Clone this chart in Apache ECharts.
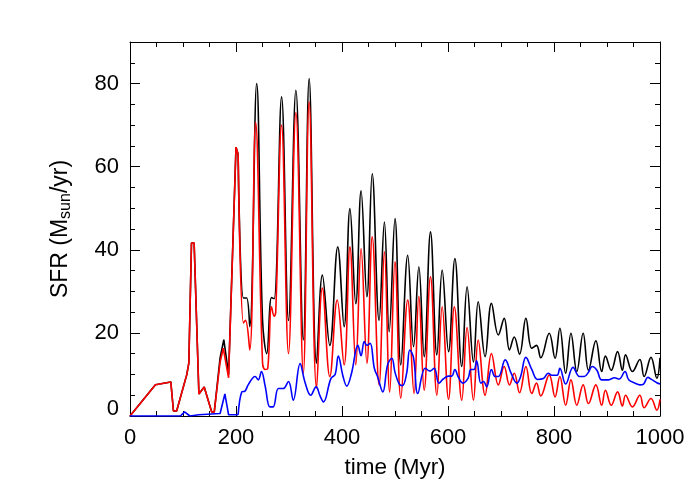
<!DOCTYPE html>
<html>
<head>
<meta charset="utf-8">
<script src="https://cdn.jsdelivr.net/npm/echarts@6/dist/echarts.min.js"></script>
<style>
html,body{margin:0;padding:0;background:#fff;}
#chart{width:700px;height:500px;}
</style>
</head>
<body>
<div id="chart"></div>
<script>
// ---- data (time in Myr, SFR in Msun/yr) ----
const blackT = [0,48,77,82,88,107,111,116,121,130,140,154,159,170,177,186,200,204,214,220,226,239,250,258,267,272,286,299,313,327,338,352,363,377,392,404,415,426,436,447,457,470,480,489,500,511,524,535,545,555,567,579,589,601,613,626,636,648,657,670,682,695,706,716,725,735,747,758,767,775,791,802,811,822,832,843,855,865,879,890,897,908,920,929,935,948,962,970,983,994,1000];
const blackV = [0,7.5,8.2,1.2,1.2,9.9,12.7,41.6,41.6,5.3,7,1,1,14,18.4,10,64.7,63,28.4,28.4,21.5,80,23.2,15,28.5,28.2,76.8,23,78.4,18.3,81.2,12.7,33.9,17,40.7,21.5,49.9,27,54.2,28.7,58.3,23,46.7,20.3,47.5,12.3,38.7,16.7,35.9,14.3,44.3,14.7,35.1,15.5,37.9,11.9,31.1,13,27.5,14.3,27.1,19.5,23.5,15.9,19,14.9,23.5,16.3,17,14,19.9,13.9,21.1,10.3,19.9,10.7,19.9,11,18.1,10.7,14.4,11,15.5,11,14.7,10.7,13.6,9.5,14.1,9.1,14];

const redT = [0,48,77,82,88,107,111,116,121,130,140,154,159,170,176,186,200,204,214,218,226,237,250,255,260,267,272,275,286,299,313,327,338,352,363,377,391,404,415,426,436,447,457,470,480,490,500,511,524,536,545,555,567,579,589,601,612,626,636,648,657,670,682,695,706,716,725,735,747,758,767,775,791,802,811,822,832,843,855,865,879,890,897,908,920,929,935,948,962,970,983,994,1000];
const redV = [0,7.5,8.2,1.2,1.2,9.9,12.7,41.6,41.6,5.3,7,1,1,13,16.3,9.2,64.7,63,22.4,23,15.9,70.6,13,11.2,11.5,26.3,24,25,70,15,73,10.3,75.6,6.7,30.8,9.5,27.9,12.3,40.7,12.3,40.3,12.7,43.1,7.5,39.5,5.8,37.1,4.3,27.9,5.4,28.8,6.2,33.5,5,26.3,4,26.3,3.8,21.3,3.8,18.3,5,15,7.5,11.9,7.5,10.3,5.6,11.9,5.4,7.9,4.8,9.9,4.6,9.5,2.6,8.7,2.6,7.5,3,7.5,2.6,6.2,2.6,5.8,2.4,5,2.2,5,2,4.2,1.4,4];

const blueT = [0,95,103,113,130,170,179,186,204,211,217,223,236,242,248,255,264,270,280,289,299,308,321,330,341,351,359,365,379,387,393,402,409,418,430,436,442,447,453,461,467,477,486,494,500,508,514,522,528,535,543,557,566,574,583,591,601,607,613,619,628,638,643,649,654,662,667,673,682,689,695,708,719,730,737,747,758,769,780,789,796,806,811,822,836,848,857,865,872,881,890,903,914,923,934,941,953,962,969,977,984,994,1000];
const blueV = [0,0,1,0,0.3,0.6,5.3,0.3,0.3,5.8,6,7.5,9.5,8.7,10.7,7.2,2.2,2.2,6.6,6.6,8.3,3.8,12.6,8.2,5,7,4.7,3.4,9,10,14.4,9.5,7.2,10.3,17,14.5,17.9,17,17.5,11.5,9.5,5.8,12.3,13.9,10.5,7.7,7.3,10.3,15.9,14,5.4,11.5,10.8,11.5,7.9,8.9,9.6,9.6,11.2,9.5,7.9,9.1,11.2,11.2,13.3,7.9,8.3,7,11.2,9.5,9.5,13.5,10.3,7.9,9.5,14.1,11.2,8.8,9,10.3,9.8,9.8,11.5,7.7,11.7,9.5,9.5,10.5,11.9,11,8.7,8.7,9.2,8.9,10.7,8.7,7.9,7.5,7.7,9.3,8.8,8,7.7];

const xTickStep = 200, xMinorStep = 50, xMin = 0, xMax = 1000;
const yTickStep = 20, yMinorStep = 5, yMin = 0, yMax = 90;
const linearUntil = 204; // early, angular part drawn straight; later oscillations smoothed

const pairs = (t, v) => t.map((x, i) => [x, v[i]]);

const FONT = 'Liberation Sans';
const chart = echarts.init(document.getElementById('chart'), null, {renderer: 'canvas'});

function xAx(pos, step, tickLen, labels, line) {
  return {
    type: 'value', position: pos, min: xMin, max: xMax, interval: step,
    axisLine: {show: line, onZero: false, lineStyle: {color: '#000', width: 1}},
    axisTick: {show: true, inside: true, length: tickLen, lineStyle: {color: '#000', width: 1}},
    axisLabel: {show: labels, margin: 11, color: '#000', fontFamily: FONT, fontSize: 22,
      formatter: v => String(v)},
    splitLine: {show: false},
    name: labels ? 'time (Myr)' : '', nameLocation: 'middle', nameGap: 40,
    nameTextStyle: {color: '#000', fontFamily: FONT, fontSize: 22.5}
  };
}
function yAx(pos, step, tickLen, labels, line) {
  return {
    type: 'value', position: pos, min: yMin, max: yMax, interval: step,
    axisLine: {show: line, onZero: false, lineStyle: {color: '#000', width: 1}},
    axisTick: {show: true, inside: true, length: tickLen, lineStyle: {color: '#000', width: 1}},
    axisLabel: {show: labels, margin: 11, color: '#000', fontFamily: FONT, fontSize: 22, showMaxLabel: false,
      formatter: v => (v === 0 ? '{z|0}' : String(v)),
      rich: {z: {fontFamily: FONT, fontSize: 22, color: '#000', padding: [0, 0, 14, 0]}}},
    splitLine: {show: false},
    name: labels ? '{a|SFR (M}{s|sun}{a|/yr)}' : '', nameLocation: 'middle', nameGap: 56, nameRotate: 90,
    nameTextStyle: {color: '#000', fontFamily: FONT, fontSize: 23,
      rich: {
        a: {fontFamily: FONT, fontSize: 23, color: '#000'},
        s: {fontFamily: FONT, fontSize: 16, color: '#000', padding: [11, 0, 0, 0]}
      }}
  };
}

function lineSeries(name, t, v, color) {
  const all = pairs(t, v);
  const early = all.filter(p => p[0] <= linearUntil);
  const late = all.filter(p => p[0] >= linearUntil);
  const base = {
    name, type: 'line', xAxisIndex: 0, yAxisIndex: 0,
    showSymbol: false, symbol: 'none', animation: false,
    lineStyle: {color, width: 1.6}, itemStyle: {color}, z: 2
  };
  return [
    Object.assign({}, base, {data: early, smooth: false}),
    Object.assign({}, base, {data: late, smooth: 0.4})
  ];
}

chart.setOption({
  backgroundColor: '#fff',
  animation: false,
  grid: {left: 130, right: 40, top: 42, bottom: 84, containLabel: false},
  xAxis: [
    xAx('bottom', xTickStep, 10, true, true),
    xAx('bottom', xMinorStep, 5, false, false),
    xAx('top', xTickStep, 10, false, true),
    xAx('top', xMinorStep, 5, false, false)
  ],
  yAxis: [
    yAx('left', yTickStep, 10, true, true),
    yAx('left', yMinorStep, 5, false, false),
    yAx('right', yTickStep, 10, false, true),
    yAx('right', yMinorStep, 5, false, false)
  ],
  series: [].concat(
    lineSeries('total', blackT, blackV, '#000000'),
    lineSeries('red', redT, redV, '#ff0000'),
    lineSeries('blue', blueT, blueV, '#0000ff')
  )
});
</script>
</body>
</html>
